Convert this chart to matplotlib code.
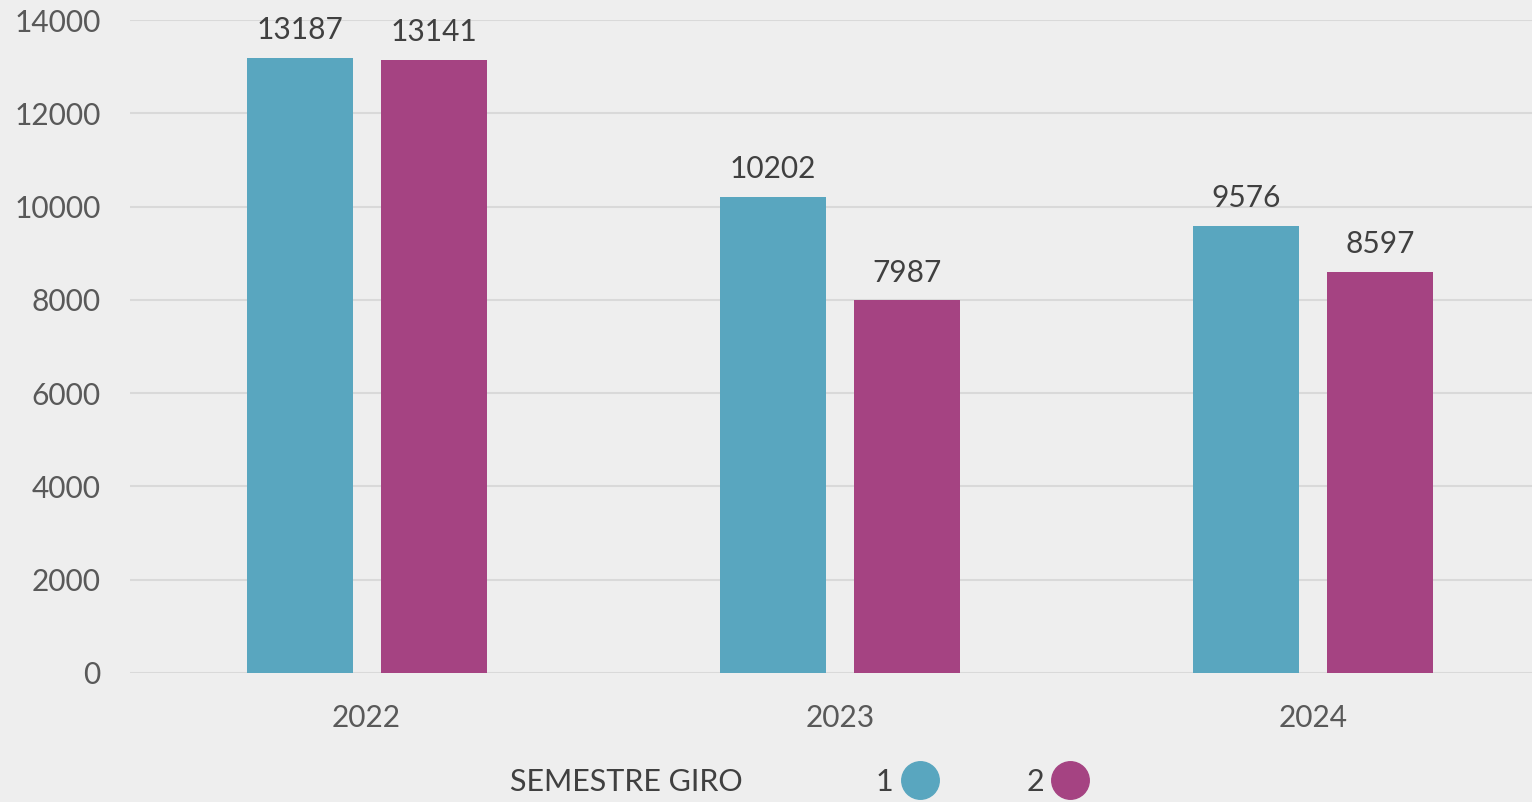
import numpy as np
import matplotlib.pyplot as plt
from matplotlib.lines import Line2D

years = ['2022', '2023', '2024']
sem1 = [13187, 10202, 9576]
sem2 = [13141, 7987, 8597]
series_names = ['1', '2']
yticks = [0, 2000, 4000, 6000, 8000, 10000, 12000, 14000]

blue = '#59a6bf'
purple = '#a54382'
bg = '#eeeeee'

plt.rcParams['font.family'] = ['Lato', 'DejaVu Sans']
fs = 21.5

fig = plt.figure(figsize=(15.32, 8.02), dpi=100, facecolor=bg)
ax = fig.add_axes([130 / 1532, 129 / 802, 1 - 130 / 1532, 653 / 802])
ax.set_facecolor(bg)

x = np.arange(len(years))
w = 0.224
off = 0.1416
b1 = ax.bar(x - off, sem1, w, color=blue, zorder=3)
b2 = ax.bar(x + off, sem2, w, color=purple, zorder=3)

for bars in (b1, b2):
    for r in bars:
        ax.annotate(str(int(r.get_height())), (r.get_x() + r.get_width() / 2, r.get_height()),
                    xytext=(0, 10), textcoords='offset points', ha='center', va='bottom',
                    fontsize=fs, color='#404040')

ax.set_xlim(-0.5, 2 + (1532 - 1313) / 473)
ax.set_ylim(0, 14000)
ax.set_yticks(yticks)
ax.set_xticks(x)
ax.set_xticklabels(years)
ax.tick_params(axis='both', length=0, labelsize=fs, labelcolor='#595959')
ax.tick_params(axis='y', pad=21)
ax.tick_params(axis='x', pad=22)
ax.grid(axis='y', color='#d9d9d9', linewidth=1.5, zorder=0)
for s in ax.spines.values():
    s.set_visible(False)

# legend row at the bottom: title entry has no handle
handles = [Line2D([], [], linestyle='none'),
           Line2D([], [], marker='o', linestyle='none', markersize=27, color=blue),
           Line2D([], [], marker='o', linestyle='none', markersize=27, color=purple)]
labels = ['SEMESTRE GIRO'] + series_names
leg = fig.legend(handles, labels, loc='center left', bbox_to_anchor=(0.3152, 0.025), ncol=3,
                 frameon=False, markerfirst=False, fontsize=22, handlelength=1.0,
                 handletextpad=0.35, columnspacing=3.0)
for t in leg.get_texts():
    t.set_color('#404040')

fig.savefig('out.png', dpi=100, facecolor=bg)
